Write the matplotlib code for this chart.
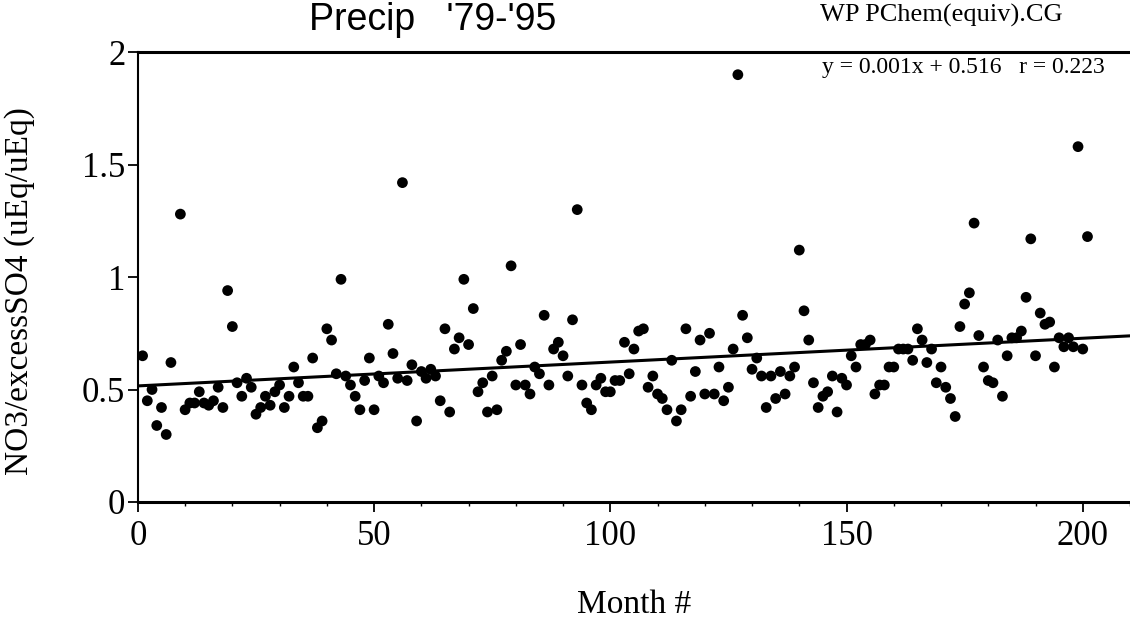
import matplotlib.pyplot as plt
from matplotlib.ticker import MultipleLocator

# Month numbers and NO3/excess SO4 ratios
months = [1, 2, 3, 4, 5, 6, 7, 9, 10, 11, 12, 13, 14, 15, 16, 17, 18, 19, 20,
          21, 22, 23, 24, 25, 26, 27, 28, 29, 30, 31, 32, 33, 34, 35, 36, 37,
          38, 39, 40, 41, 42, 43, 44, 45, 46, 47, 48, 49, 50, 51, 52, 53, 54,
          55, 56, 57, 58, 59, 60, 61, 62, 63, 64, 65, 66, 67, 68, 69, 70, 71,
          72, 73, 74, 75, 76, 77, 78, 79, 80, 81, 82, 83, 84, 85, 86, 87, 88,
          89, 90, 91, 92, 93, 94, 95, 96, 97, 98, 99, 100, 101, 102, 103, 104,
          105, 106, 107, 108, 109, 110, 111, 112, 113, 114, 115, 116, 117, 118,
          119, 120, 121, 122, 123, 124, 125, 126, 127, 128, 129, 130, 131, 132,
          133, 134, 135, 136, 137, 138, 139, 140, 141, 142, 143, 144, 145, 146,
          147, 148, 149, 150, 151, 152, 153, 154, 155, 156, 157, 158, 159, 160,
          161, 162, 163, 164, 165, 166, 167, 168, 169, 170, 171, 172, 173, 174,
          175, 176, 177, 178, 179, 180, 181, 182, 183, 184, 185, 186, 187, 188,
          189, 190, 191, 192, 193, 194, 195, 196, 197, 198, 199, 200, 201]

ratio = [0.65, 0.45, 0.50, 0.34, 0.42, 0.30, 0.62, 1.28, 0.41, 0.44, 0.44, 0.49,
         0.44, 0.43, 0.45, 0.51, 0.42, 0.94, 0.78, 0.53, 0.47, 0.55, 0.51, 0.39,
         0.42, 0.47, 0.43, 0.49, 0.52, 0.42, 0.47, 0.60, 0.53, 0.47, 0.47, 0.64,
         0.33, 0.36, 0.77, 0.72, 0.57, 0.99, 0.56, 0.52, 0.47, 0.41, 0.54, 0.64,
         0.41, 0.56, 0.53, 0.79, 0.66, 0.55, 1.42, 0.54, 0.61, 0.36, 0.58, 0.55,
         0.59, 0.56, 0.45, 0.77, 0.40, 0.68, 0.73, 0.99, 0.70, 0.86, 0.49, 0.53,
         0.40, 0.56, 0.41, 0.63, 0.67, 1.05, 0.52, 0.70, 0.52, 0.48, 0.60, 0.57,
         0.83, 0.52, 0.68, 0.71, 0.65, 0.56, 0.81, 1.30, 0.52, 0.44, 0.41, 0.52,
         0.55, 0.49, 0.49, 0.54, 0.54, 0.71, 0.57, 0.68, 0.76, 0.77, 0.51, 0.56,
         0.48, 0.46, 0.41, 0.63, 0.36, 0.41, 0.77, 0.47, 0.58, 0.72, 0.48, 0.75,
         0.48, 0.60, 0.45, 0.51, 0.68, 1.90, 0.83, 0.73, 0.59, 0.64, 0.56, 0.42,
         0.56, 0.46, 0.58, 0.48, 0.56, 0.60, 1.12, 0.85, 0.72, 0.53, 0.42, 0.47,
         0.49, 0.56, 0.40, 0.55, 0.52, 0.65, 0.60, 0.70, 0.70, 0.72, 0.48, 0.52,
         0.52, 0.60, 0.60, 0.68, 0.68, 0.68, 0.63, 0.77, 0.72, 0.62, 0.68, 0.53,
         0.60, 0.51, 0.46, 0.38, 0.78, 0.88, 0.93, 1.24, 0.74, 0.60, 0.54, 0.53,
         0.72, 0.47, 0.65, 0.73, 0.73, 0.76, 0.91, 1.17, 0.65, 0.84, 0.79, 0.80,
         0.60, 0.73, 0.69, 0.73, 0.69, 1.58, 0.68, 1.18]

# regression line as drawn on the original
slope = 0.00106
intercept = 0.516
fit_x = [0, 210]

serif = "Liberation Serif"

fig = plt.figure(figsize=(11.3, 6.29), dpi=100)
ax = fig.add_axes([0.122, 0.202, 0.878, 0.715])

ax.scatter(months, ratio, s=60, color="black", edgecolors="none", zorder=3)
ax.plot(fit_x, [intercept + slope * v for v in fit_x], color="black", lw=2.2, zorder=2)

ax.set_xlim(0, 210)
ax.set_ylim(0, 2)

ax.xaxis.set_major_locator(MultipleLocator(50))
ax.xaxis.set_minor_locator(MultipleLocator(10))
ax.set_yticks([0, 0.5, 1, 1.5, 2])
ax.set_yticklabels(["0", "0.5", "1", "1.5", "2"])

ax.tick_params(axis="x", which="major", direction="out", length=7, width=1.3, pad=6)
ax.tick_params(axis="x", which="minor", direction="out", length=3, width=1)
ax.tick_params(axis="y", which="major", direction="out", length=7, width=1.3, pad=2)
for lab in ax.get_xticklabels() + ax.get_yticklabels():
    lab.set_fontfamily(serif)
    lab.set_fontsize(25)

ax.spines["right"].set_visible(False)
ax.spines["top"].set_linewidth(2.2)
ax.spines["bottom"].set_linewidth(2.2)
ax.spines["left"].set_linewidth(1.5)

ax.set_xlabel("Month #", fontfamily=serif, fontsize=24, labelpad=26)
ax.set_ylabel("NO3/excessSO4 (uEq/uEq)", fontfamily=serif, fontsize=24)
ax.yaxis.set_label_coords(-0.104, 0.47)

fig.text(0.383, 0.968, "Precip   '79-'95", family="Liberation Sans", fontsize=27,
         ha="center", va="center")
fig.text(0.833, 0.975, "WP PChem(equiv).CG", family=serif, fontsize=19,
         ha="center", va="center")
ax.text(0.975, 0.99, "y = 0.001x + 0.516   r = 0.223", transform=ax.transAxes,
        family=serif, fontsize=17, ha="right", va="top")

plt.savefig("out.png", dpi=100)
plt.close()
